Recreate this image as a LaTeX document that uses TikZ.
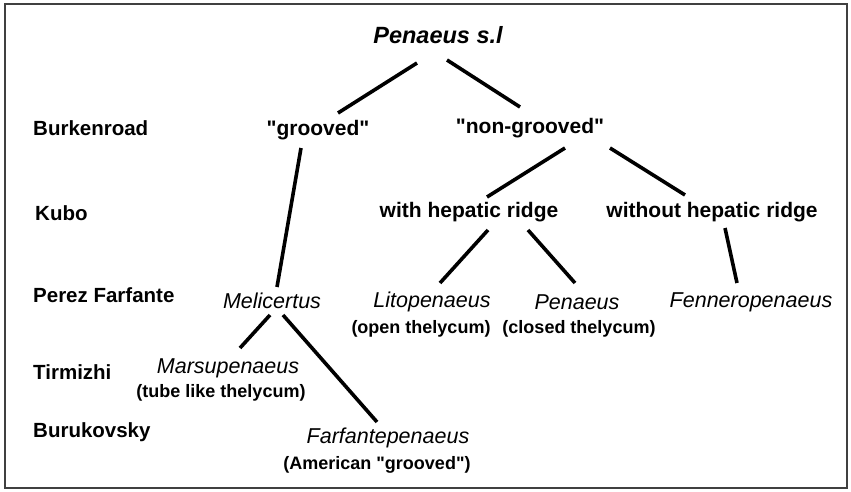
\documentclass[tikz,border=0pt]{standalone}
\usepackage{fontspec}
\setmainfont{Liberation Sans}
\begin{document}
\begin{tikzpicture}[x=1pt,y=-1pt,
  lbl/.style={anchor=west,inner sep=0pt,font=\fontsize{20.5}{24}\selectfont\bfseries},
  grp/.style={anchor=center,inner sep=0pt,font=\fontsize{21}{25}\selectfont\bfseries},
  gen/.style={anchor=center,inner sep=0pt,font=\fontsize{21.5}{25}\selectfont\itshape},
  note/.style={anchor=center,inner sep=0pt,font=\fontsize{18}{21}\selectfont\bfseries},
  link/.style={line width=3.6pt,black}]
\useasboundingbox (0,0) rectangle (851,491);
\fill[white] (0,0) rectangle (851,491);
\draw[line width=2pt,black!75] (5,4) rectangle (847,488);
% row labels
\node[lbl] (burk) at (33,128) {Burkenroad};
\node[lbl] (kubo) at (35,213) {Kubo};
\node[lbl] (perez) at (33,295) {Perez Farfante};
\node[lbl] (tirm) at (33,372) {Tirmizhi};
\node[lbl] (buru) at (33,432) {Burukovsky};
% tree nodes
\node[anchor=center,inner sep=0pt,font=\fontsize{23.5}{27}\selectfont\bfseries\itshape] (top) at (438,35) {Penaeus s.l};
\node[grp] (gr) at (318,130) {\textquotedbl grooved\textquotedbl};
\node[grp] (ngr) at (530,128) {\textquotedbl non-grooved\textquotedbl};
\node[grp] (with) at (469,212) {with hepatic ridge};
\node[grp] (without) at (712,212) {without hepatic ridge};
\node[gen] (meli) at (272,301) {Melicertus};
\node[gen] (lito) at (432,302) {Litopenaeus};
\node[gen] (pen) at (577,302) {Penaeus};
\node[gen] (fen) at (751,302) {Fenneropenaeus};
\node[note] (open) at (421,329) {(open thelycum)};
\node[note] (closed) at (579,329) {(closed thelycum)};
\node[gen] (mars) at (228,368) {Marsupenaeus};
\node[note] (tube) at (221,393) {(tube like thelycum)};
\node[gen] (farf) at (388,438) {Farfantepenaeus};
\node[note] (amer) at (377,465) {(American \textquotedbl grooved\textquotedbl)};
% connectors
\draw[link] ([shift={(-21,28)}]top.center) -- ([shift={(20,-17)}]gr.center);
\draw[link] ([shift={(9,25)}]top.center) -- ([shift={(-10,-21)}]ngr.center);
\draw[link] ([shift={(-17,18)}]gr.center) -- ([shift={(5,-14)}]meli.center);
\draw[link] ([shift={(35,20)}]ngr.center) -- ([shift={(18,-15)}]with.center);
\draw[link] ([shift={(80,20)}]ngr.center) -- ([shift={(-27,-17)}]without.center);
\draw[link] ([shift={(19,18)}]with.center) -- ([shift={(8,-19)}]lito.center);
\draw[link] ([shift={(59,18)}]with.center) -- ([shift={(-2,-19)}]pen.center);
\draw[link] ([shift={(13,16)}]without.center) -- ([shift={(-14,-19)}]fen.center);
\draw[link] ([shift={(-2,14)}]meli.center) -- ([shift={(12,-20)}]mars.center);
\draw[link] ([shift={(11,14)}]meli.center) -- ([shift={(-11,-16)}]farf.center);
\end{tikzpicture}
\end{document}
